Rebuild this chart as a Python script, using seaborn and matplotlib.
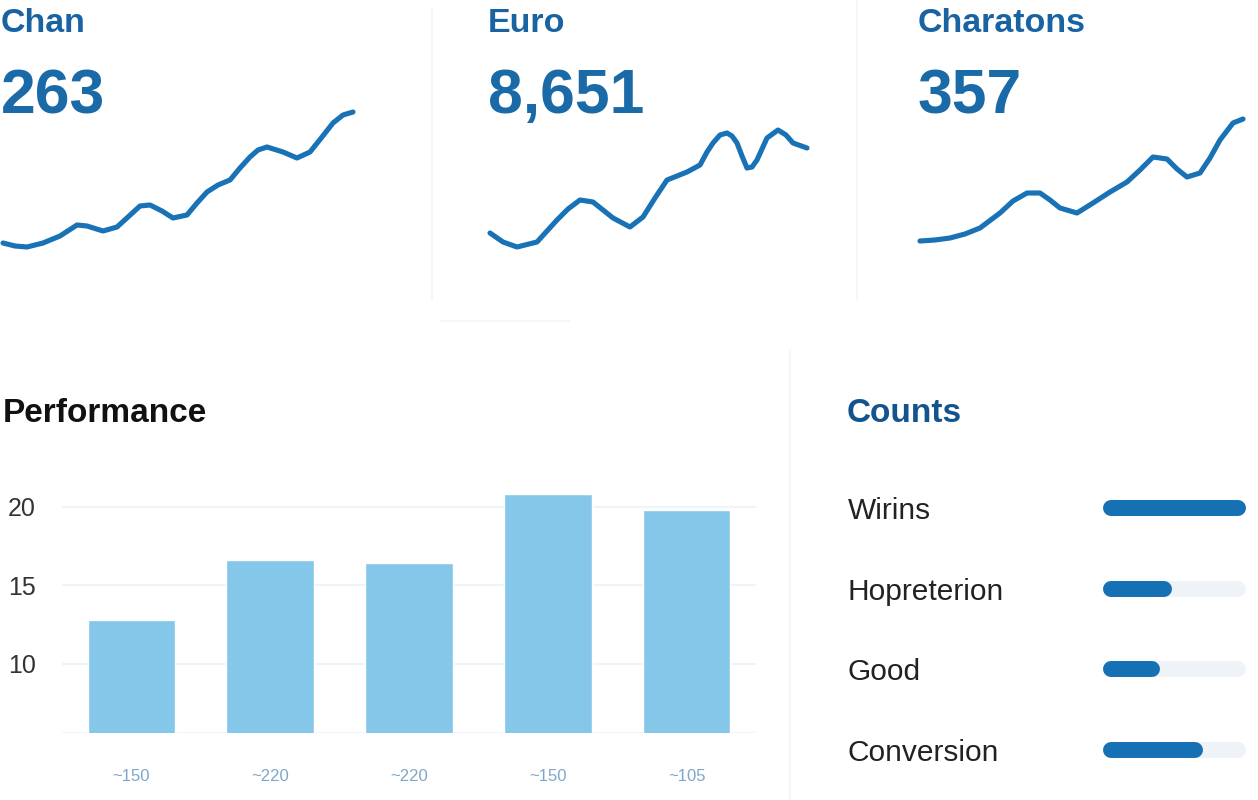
import numpy as np
import pandas as pd
import seaborn as sns
import matplotlib.pyplot as plt
from matplotlib.lines import Line2D

# ---- data ----
kpi_names = ['Chan', 'Euro', 'Charatons']
kpi_values = ['263', '8,651', '357']

chan_t = [3, 15, 27, 43, 60, 77, 87, 103, 117, 128, 140, 150, 162, 173, 187, 197, 207, 218, 230, 240,
          250, 258, 267, 283, 297, 310, 322, 333, 343, 353]
chan_v = [17, 14, 13, 17, 24, 35, 34, 29, 33, 43, 54, 55, 49, 42, 45, 57, 68, 75, 80, 92,
          103, 110, 113, 108, 102, 108, 123, 137, 145, 148]

euro_t = [10, 23, 37, 57, 77, 88, 100, 113, 123, 133, 150, 163, 175, 187, 207, 220, 227, 233, 240, 247,
          252, 257, 262, 267, 272, 277, 287, 298, 306, 313, 327]
euro_v = [27, 18, 13, 18, 40, 51, 60, 58, 50, 42, 33, 43, 62, 80, 88, 95, 108, 117, 125, 127,
          124, 117, 104, 92, 93, 100, 122, 130, 125, 117, 112]

char_t = [10, 25, 40, 55, 70, 90, 103, 117, 130, 140, 150, 167, 183, 200, 217, 230, 243, 257, 267, 277,
          290, 300, 310, 323, 333]
char_v = [19, 20, 22, 26, 32, 47, 59, 67, 67, 60, 52, 47, 57, 68, 78, 90, 103, 101, 91, 83,
          87, 102, 120, 137, 141]

perf_labels = ['~150', '~220', '~220', '~150', '~105']
perf_values = [12.8, 16.6, 16.4, 20.8, 19.8]

count_labels = ['Wirins', 'Hopreterion', 'Good', 'Conversion']
count_values = [1.0, 0.42, 0.32, 0.66]

# ---- style ----
sns.set_style('white')
plt.rcParams['font.family'] = ['Liberation Sans', 'DejaVu Sans']

W, H = 1258, 800
fig = plt.figure(figsize=(W / 100, H / 100), dpi=100)

def px_axes(x0, y0, x1, y1):
    # axes box given in figure pixels (y from top)
    return fig.add_axes([x0 / W, 1 - y1 / H, (x1 - x0) / W, (y1 - y0) / H])

title_blue = '#1a63a2'
line_blue = '#1872b5'

# ---- sparkline panels ----
panels = [(0, 420, chan_t, chan_v), (480, 420, euro_t, euro_v), (910, 348, char_t, char_v)]
for (left, width, t, v), name, val in zip(panels, kpi_names, kpi_values):
    ax = px_axes(left, 100, left + width, 260)
    df = pd.DataFrame({'t': t, 'v': v})
    sns.lineplot(data=df, x='t', y='v', ax=ax, color=line_blue, linewidth=3.7,
                 solid_capstyle='round', solid_joinstyle='round')
    ax.set_xlim(0, width)
    ax.set_ylim(0, 160)
    ax.axis('off')
    tx = left + (1 if left == 0 else 8)
    fig.text(tx / W, 1 - 32 / H, name, fontsize=24.5, fontweight='bold', color=title_blue, va='baseline')
    fig.text(tx / W, 1 - 113 / H, val, fontsize=45, fontweight='bold', color='#1a6aa8', va='baseline')

# faint separators
for x, y0, y1 in [(432, 8, 300), (857, 0, 300), (790, 350, 800)]:
    fig.add_artist(Line2D([x / W, x / W], [1 - y0 / H, 1 - y1 / H], color='#f3f5f7', lw=1.2))
fig.add_artist(Line2D([440 / W, 570 / W], [1 - 321 / H, 1 - 321 / H], color='#f3f5f7', lw=1.2))

# ---- Performance bar chart ----
fig.text(3 / W, 1 - 422 / H, 'Performance', fontsize=24, fontweight='bold', color='#111111', va='baseline')
axb = px_axes(62, 480, 756, 733)
perf = pd.DataFrame({'label': perf_labels, 'value': perf_values, 'pos': range(len(perf_values))})
sns.barplot(data=perf, x='pos', y='value', ax=axb, color='#84c7e9', saturation=1, width=0.63)
axb.set_ylim(5.6, 21.7)
axb.set_xlim(-0.5, 4.5)
axb.set_yticks([10, 15, 20])
axb.set_yticklabels(['10', '15', '20'])
axb.set_xticks(range(len(perf_labels)))
axb.set_xticklabels(perf_labels)
axb.set_xlabel('')
axb.set_ylabel('')
axb.grid(axis='y', color='#edf4fa', linewidth=1.5)
axb.set_axisbelow(True)
axb.tick_params(axis='y', length=0, pad=19, labelsize=18, labelcolor='#333333')
axb.tick_params(axis='x', length=0, pad=26, labelsize=12, labelcolor='#7fa6c8')
for s in axb.spines.values():
    s.set_visible(False)
axb.axhline(5.6, color='#f0f5fa', lw=1.5, zorder=0)

# ---- Counts progress bars ----
fig.text(847 / W, 1 - 422 / H, 'Counts', fontsize=24, fontweight='bold', color='#13548e', va='baseline')
axc = px_axes(1103, 468, 1246, 790)
rows = np.arange(len(count_labels))
pad = 8 / 127
track = axc.hlines(rows, 0, 1, color='#eff3f7', lw=11.5)
track.set_capstyle('round')
fill = axc.hlines(rows, 0, count_values, color='#1570b4', lw=11.5)
fill.set_capstyle('round')
axc.set_xlim(-pad, 1 + pad)
axc.set_ylim(len(count_labels) - 0.5, -0.5)
axc.set_yticks(rows)
axc.set_yticklabels(count_labels)
axc.set_xticks([])
axc.tick_params(axis='y', length=0, pad=184, labelsize=21.5, labelcolor='#222222')
for lab in axc.get_yticklabels():
    lab.set_horizontalalignment('left')
for s in axc.spines.values():
    s.set_visible(False)

fig.savefig('out.png', dpi=100, facecolor='white')
